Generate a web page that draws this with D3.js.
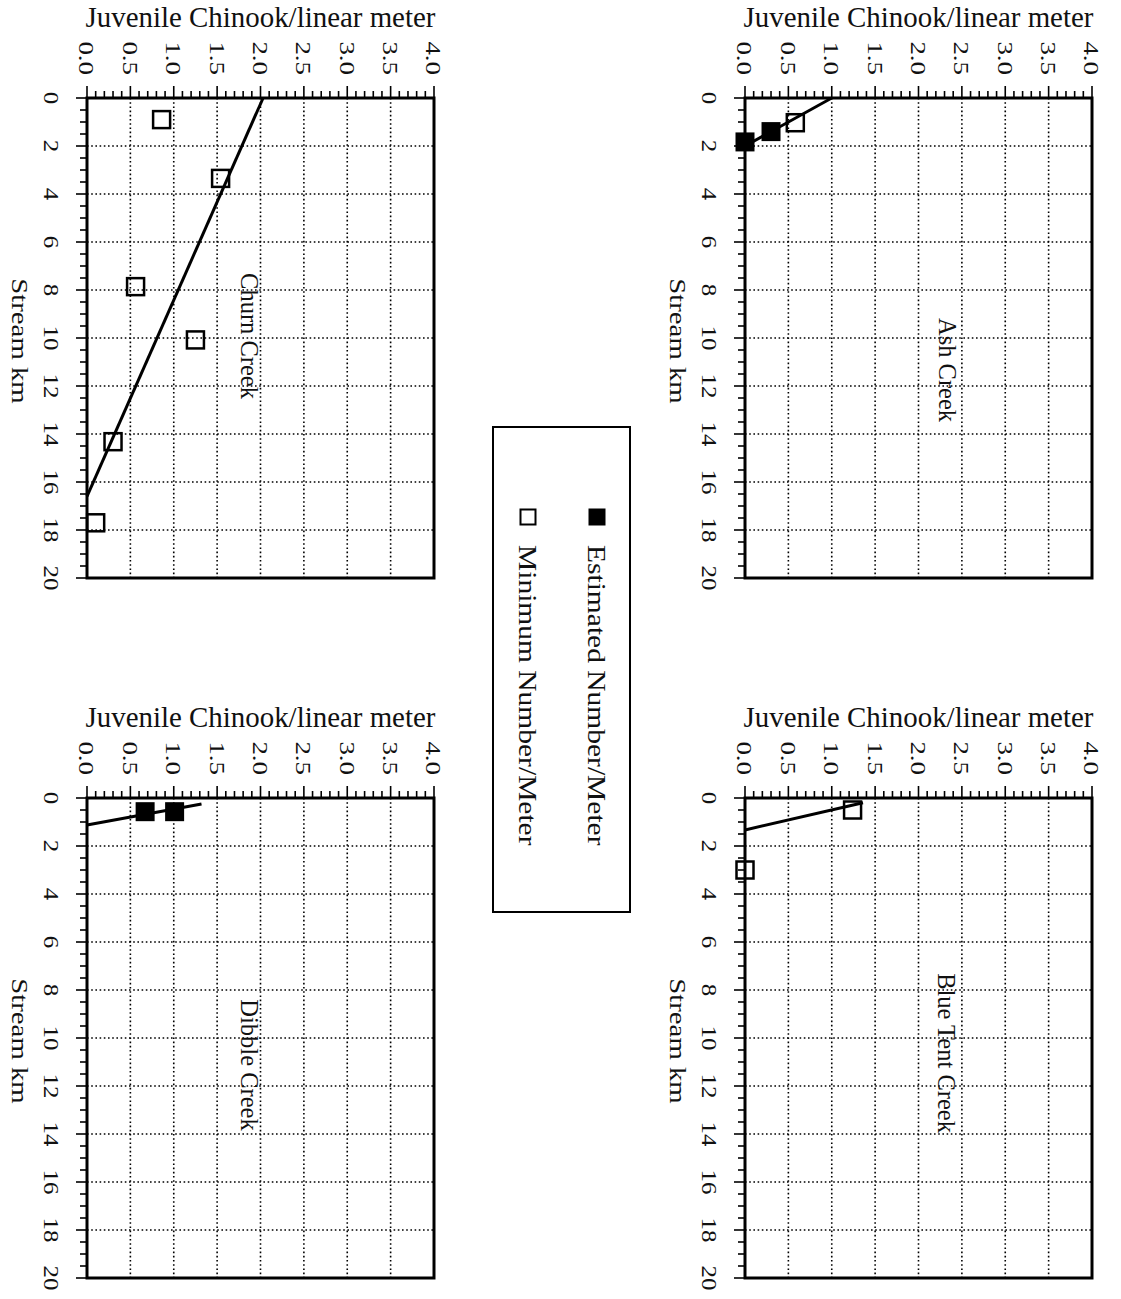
<!DOCTYPE html>
<html>
<head>
<meta charset="utf-8">
<script src="https://cdn.jsdelivr.net/npm/d3@7"></script>
<style>
  html, body { margin: 0; padding: 0; background: #fff; }
  svg { display: block; }
  text { font-family: "Liberation Serif", "Times New Roman", serif; fill: #111; }
</style>
</head>
<body>
<svg id="chart" width="1121" height="1299"></svg>
<script>
// ---- Data: juvenile Chinook density (fish per linear meter) by stream km ----
const valueTickLabels = ["0.0", "0.5", "1.0", "1.5", "2.0", "2.5", "3.0", "3.5", "4.0"];
const kmTickLabels = [0, 2, 4, 6, 8, 10, 12, 14, 16, 18, 20];

const creekNames = ["Ash Creek", "Blue Tent Creek", "Churn Creek", "Dibble Creek"];

// Ash Creek
const ashEstimated = [{ km: 1.83, v: 0.0 }, { km: 1.4, v: 0.30 }];
const ashMinimum = [{ km: 1.03, v: 0.58 }];
const ashTrend = [{ km: 0.0, v: 1.0 }, { km: 2.0, v: 0.0 }];

// Blue Tent Creek
const blueTentEstimated = [];
const blueTentMinimum = [{ km: 0.5, v: 1.24 }, { km: 3.0, v: 0.0 }];
const blueTentTrend = [{ km: 0.2, v: 1.36 }, { km: 1.33, v: 0.0 }];

// Churn Creek
const churnEstimated = [];
const churnMinimum = [
  { km: 0.9, v: 0.86 }, { km: 3.35, v: 1.54 }, { km: 7.86, v: 0.56 },
  { km: 10.08, v: 1.25 }, { km: 14.32, v: 0.30 }, { km: 17.7, v: 0.10 }
];
const churnTrend = [{ km: 0.0, v: 2.03 }, { km: 16.6, v: 0.0 }];

// Dibble Creek
const dibbleEstimated = [{ km: 0.57, v: 0.67 }, { km: 0.57, v: 1.01 }];
const dibbleMinimum = [];
const dibbleTrend = [{ km: 0.25, v: 1.32 }, { km: 1.125, v: 0.0 }];

const legendLabels = ["Estimated Number/Meter", "Minimum Number/Meter"];

// ---- Layout ----
const svg = d3.select("#chart");
svg.append("rect").attr("width", 1121).attr("height", 1299).attr("fill", "#fff");

const plotW = 347, plotH = 480;
const panels = [
  { name: creekNames[0], x: 745, y: 98,  est: ashEstimated,      min: ashMinimum,      trend: ashTrend,      label: [203, 272] },
  { name: creekNames[1], x: 745, y: 798, est: blueTentEstimated, min: blueTentMinimum, trend: blueTentTrend, label: [202, 255] },
  { name: creekNames[2], x: 87,  y: 98,  est: churnEstimated,    min: churnMinimum,    trend: churnTrend,    label: [163, 238] },
  { name: creekNames[3], x: 87,  y: 798, est: dibbleEstimated,   min: dibbleMinimum,   trend: dibbleTrend,   label: [163, 267] }
];

const xs = d3.scaleLinear().domain([0, 4]).range([0, plotW]);
const ys = d3.scaleLinear().domain([0, 20]).range([0, plotH]);

panels.forEach(p => {
  const g = svg.append("g").attr("transform", `translate(${p.x},${p.y})`);

  // dotted grid
  const grid = g.append("g").attr("stroke", "#000").attr("stroke-width", 1.6)
    .attr("stroke-dasharray", "1.6,2.6");
  grid.selectAll("line.v").data(valueTickLabels.map(Number).filter(v => v > 0 && v < 4))
    .join("line").attr("class", "v")
    .attr("x1", d => xs(d)).attr("x2", d => xs(d)).attr("y1", 0).attr("y2", plotH);
  grid.selectAll("line.h").data(kmTickLabels.filter(k => k > 0 && k < 20))
    .join("line").attr("class", "h")
    .attr("y1", d => ys(d)).attr("y2", d => ys(d)).attr("x1", 0).attr("x2", plotW);

  // frame
  g.append("rect").attr("width", plotW).attr("height", plotH)
    .attr("fill", "none").attr("stroke", "#000").attr("stroke-width", 3);

  // top axis ticks
  const minorV = d3.range(0, 41).map(i => i / 10);
  g.append("g").selectAll("line").data(minorV).join("line")
    .attr("x1", d => xs(d)).attr("x2", d => xs(d))
    .attr("y1", 0).attr("y2", (d, i) => (i % 5 === 0 ? -12 : -7))
    .attr("stroke", "#000").attr("stroke-width", 1.6);
  g.append("g").selectAll("text").data(valueTickLabels).join("text")
    .attr("transform", d => `translate(${xs(+d)},-23) rotate(90) scale(1.25,1)`)
    .attr("text-anchor", "end").attr("dy", "0.35em")
    .attr("font-size", 21.5).text(d => d);

  // left axis ticks
  const minorK = d3.range(0, 41).map(i => i / 2);
  g.append("g").selectAll("line").data(minorK).join("line")
    .attr("y1", d => ys(d)).attr("y2", d => ys(d))
    .attr("x1", 0).attr("x2", (d, i) => (i % 4 === 0 ? -11 : -7))
    .attr("stroke", "#000").attr("stroke-width", 1.6);
  g.append("g").selectAll("text").data(kmTickLabels).join("text")
    .attr("transform", d => `translate(-36,${ys(d)}) rotate(90) scale(1.22,1)`)
    .attr("text-anchor", "middle").attr("dy", "0.35em")
    .attr("font-size", 20.5).text(d => d);

  // axis titles
  g.append("text").attr("x", plotW / 2).attr("y", -71)
    .attr("text-anchor", "middle").attr("font-size", 28.9)
    .text("Juvenile Chinook/linear meter");
  g.append("text")
    .attr("transform", `translate(-67,${plotH / 2 + 3}) rotate(90) scale(1.2,1)`)
    .attr("text-anchor", "middle").attr("dy", "0.35em")
    .attr("font-size", 24).text("Stream km");

  // creek name
  g.append("text")
    .attr("transform", `translate(${p.label[0]},${p.label[1]}) rotate(90)`)
    .attr("text-anchor", "middle").attr("dy", "0.35em")
    .attr("font-size", 24.5).text(p.name);

  // trend line
  const line = d3.line().x(d => xs(d.v)).y(d => ys(d.km));
  g.append("path").datum(p.trend).attr("d", line)
    .attr("fill", "none").attr("stroke", "#000").attr("stroke-width", 3);

  // minimum number markers (open squares)
  const so = 17;
  g.append("g").selectAll("rect").data(p.min).join("rect")
    .attr("x", d => xs(d.v) - so / 2).attr("y", d => ys(d.km) - so / 2)
    .attr("width", so).attr("height", so)
    .attr("fill", "none").attr("stroke", "#000").attr("stroke-width", 2.5);

  // estimated number markers (filled squares)
  const sf = 19;
  g.append("g").selectAll("rect").data(p.est).join("rect")
    .attr("x", d => xs(d.v) - sf / 2).attr("y", d => ys(d.km) - sf / 2)
    .attr("width", sf).attr("height", sf).attr("fill", "#000");
});

// ---- Legend ----
const lg = svg.append("g");
lg.append("rect").attr("x", 493).attr("y", 427).attr("width", 137).attr("height", 485)
  .attr("fill", "#fff").attr("stroke", "#000").attr("stroke-width", 2);
const legendItems = [
  { label: legendLabels[0], x: 597, filled: true },
  { label: legendLabels[1], x: 528, filled: false }
];
legendItems.forEach(it => {
  const s = it.filled ? 17 : 15;
  lg.append("rect").attr("x", it.x - s / 2).attr("y", 517 - s / 2)
    .attr("width", s).attr("height", s)
    .attr("fill", it.filled ? "#000" : "#fff")
    .attr("stroke", "#000").attr("stroke-width", it.filled ? 0 : 2);
  lg.append("text")
    .attr("transform", `translate(${it.x},545) rotate(90) scale(1.18,1)`)
    .attr("text-anchor", "start").attr("dy", "0.35em")
    .attr("font-size", 25).text(it.label);
});
</script>
</body>
</html>
